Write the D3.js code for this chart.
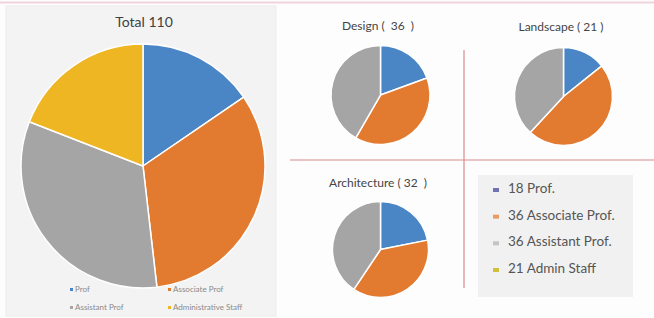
<!DOCTYPE html>
<html><head><meta charset="utf-8">
<script src="https://cdn.jsdelivr.net/npm/d3@7"></script>
<style>body{margin:0;background:#fff;}svg{display:block;font-family:Lato,"Open Sans",sans-serif;}text{white-space:pre;}</style>
</head><body>
<svg id="c" width="654" height="318"></svg>
<script>
const categories = ["Prof", "Associate Prof", "Assistant Prof", "Administrative Staff"];
const colors = ["#4a86c6", "#e27a2f", "#a5a5a5", "#eeb623"];
const totalValues = [17, 36, 36, 21];
const totalTitle = "Total 110";
const designValues = [7, 14, 15];
const landscapeValues = [3, 10, 8];
const architectureValues = [7, 12, 13];
const subTitles = ["Design (  36  )", "Landscape ( 21 )", "Architecture ( 32  )"];
const legendLabels = ["18 Prof.", "36 Associate Prof.", "36 Assistant Prof.", "21 Admin Staff"];
const legendColors = ["#7173b0", "#eb9a62", "#c3c3c3", "#cfc23a"];

const svg = d3.select("#c");
svg.append("rect").attr("x",0).attr("y",0).attr("width",654).attr("height",318).attr("fill","#fdfdfd");
svg.append("line").attr("x1",0).attr("x2",654).attr("y1",2.5).attr("y2",2.5).attr("stroke","#f0d4dc").attr("stroke-width",2);
svg.append("rect").attr("x",6).attr("y",6).attr("width",270).attr("height",310).attr("fill","#f3f3f3").attr("stroke","#ececec");

const pie = d3.pie().sort(null).value(d=>d);
function drawPie(values, cx, cy, r){
  const g = svg.append("g").attr("transform",`translate(${cx},${cy})`);
  const arc = d3.arc().innerRadius(0).outerRadius(r);
  g.selectAll("path").data(pie(values)).join("path")
    .attr("d", arc).attr("fill",(d,i)=>colors[i])
    .attr("stroke","#fff").attr("stroke-width",1.5).attr("stroke-linejoin","round");
}
drawPie(totalValues, 143, 166, 122);
svg.append("text").attr("x",144).attr("y",27).attr("text-anchor","middle")
  .attr("font-size",14).attr("fill","#404040").text(totalTitle);

const mlx = d3.scaleOrdinal().domain([0,1,2,3]).range([70,168,70,168]);
const mly = d3.scaleOrdinal().domain([0,1,2,3]).range([292,292,310,310]);
categories.forEach((c,i)=>{
  svg.append("rect").attr("x",mlx(i)).attr("y",mly(i)-4).attr("width",3).attr("height",3).attr("fill",colors[i]);
  svg.append("text").attr("x",mlx(i)+5).attr("y",mly(i)).attr("font-size",8).attr("fill","#8a8a8a").text(c);
});

svg.append("line").attr("x1",290).attr("x2",654).attr("y1",160).attr("y2",160).attr("stroke","#d98c8c").attr("stroke-width",1.2);
svg.append("line").attr("x1",464).attr("x2",464).attr("y1",50).attr("y2",288).attr("stroke","#d98c8c").attr("stroke-width",1.2);

drawPie(designValues, 380.5, 95, 49.5);
drawPie(landscapeValues, 563.5, 96.5, 49);
drawPie(architectureValues, 380.5, 249.5, 48);
[[378,30],[561,31],[378,187]].forEach((p,i)=>{
  svg.append("text").attr("x",p[0]).attr("y",p[1]).attr("text-anchor","middle")
    .attr("font-size",12).attr("fill","#444").text(subTitles[i]);
});

svg.append("rect").attr("x",478).attr("y",175).attr("width",155).attr("height",122).attr("fill","#f1f1f1");
const ly = d3.scalePoint().domain(legendLabels).range([192,272]);
legendLabels.forEach((l,i)=>{
  svg.append("rect").attr("x",493).attr("y",ly(l)-4).attr("width",6).attr("height",4).attr("fill",legendColors[i]);
  svg.append("text").attr("x",508).attr("y",ly(l)+1).attr("font-size",13.5).attr("fill","#555").text(l);
});
</script>
</body></html>
